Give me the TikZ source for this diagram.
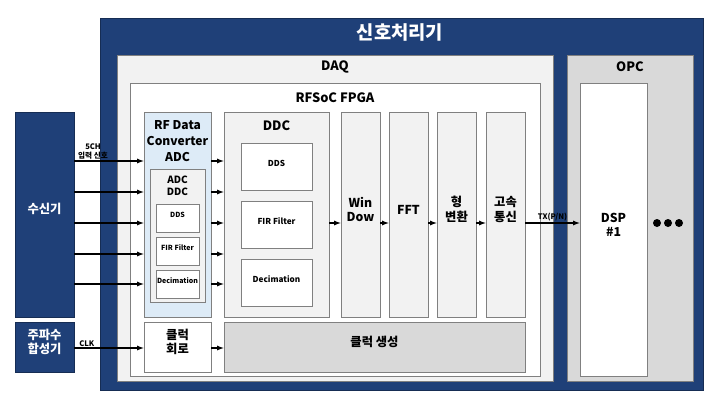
\documentclass[tikz,border=0pt]{standalone}
\usepackage{fontspec}
\setmainfont{Noto Sans CJK KR}
\usepackage{tikz}
\usetikzlibrary{arrows,fit}
\definecolor{navy}{RGB}{31,64,120}
\definecolor{adcblue}{RGB}{221,235,247}
\definecolor{boxline}{RGB}{128,128,128}

\begin{document}
\begin{tikzpicture}[x=0.03cm,y=-0.03cm,>=latex,
  box/.style={draw=boxline,line width=0.6pt,inner sep=0pt,align=center},
  bluebox/.style={box,fill=navy,draw=navy!70!black,text=white},
  lightbox/.style={box,fill=black!5},
  darkbox/.style={box,fill=black!15},
  whitebox/.style={box,fill=white},
  big/.style={font=\fontsize{10.5}{12.5}\selectfont\bfseries},
  mid/.style={font=\fontsize{8.5}{10}\selectfont\bfseries},
  tiny/.style={font=\fontsize{6}{7}\selectfont\bfseries},
  small/.style={font=\fontsize{7}{8}\selectfont\bfseries},
  chanlabel/.style={font=\fontsize{6.5}{7.5}\selectfont\bfseries,inner sep=1pt},
  sig/.style={->,line width=0.9pt}]
\useasboundingbox (0,0) rectangle (720,406);

% outside boxes
\node[bluebox,big,fit={(15,112) (74,317)}] (rx) {수신기};
\node[bluebox,big,fit={(15,322) (74,372)}] (synth) {주파수\\합성기};

% signal processor
\node[bluebox,fit={(100,18) (703,390)}] (sp) {};
\node[text=white,font=\fontsize{16}{18}\selectfont\bfseries] (sptitle) at (400,32) {신호처리기};
\node[lightbox,fit={(117,55) (553,381)}] (daq) {};
\node[font=\fontsize{11}{13}\selectfont\bfseries] (daqtitle) at (335,67) {DAQ};
\node[darkbox,fit={(567,55) (693,381)}] (opc) {};
\node[font=\fontsize{11}{13}\selectfont\bfseries] (opctitle) at (630,67) {OPC};
\node[whitebox,big,fit={(580,83) (647,376)}] (dsp) {DSP\\\#1};
\foreach \x in {657,668,679} % dots
\fill (\x,223) circle (4);

% FPGA
\node[whitebox,fit={(130,83) (540,376)}] (fpga) {};
\node[font=\fontsize{11}{13}\selectfont\bfseries] (fpgatitle) at (335,98) {RFSoC FPGA};

\node[box,fill=adcblue,fit={(144,112) (211,317)}] (rfadc) {};
\node[font=\fontsize{10.3}{13.5}\selectfont\bfseries,align=center] (rftitle) at (177.5,141) {RF Data\\Converter\\ADC};
\node[lightbox,fit={(150,169) (205,302)}] (adcddc) {};
\node[mid,align=center] (adctitle) at (177.5,186) {ADC\\DDC};
\node[whitebox,tiny,fit={(156,204) (199,232)}] (adds) {DDS};
\node[whitebox,tiny,fit={(156,237) (199,265)}] (afir) {FIR Filter};
\node[whitebox,tiny,fit={(156,270) (199,298)}] (adec) {Decimation};

\node[lightbox,fit={(224,112) (329,317)}] (ddc) {};
\node[font=\fontsize{11}{13}\selectfont\bfseries] (ddctitle) at (276.5,126) {DDC};
\node[whitebox,small,fit={(241,143) (312,190)}] (dds) {DDS};
\node[whitebox,small,fit={(241,201) (312,248)}] (fir) {FIR Filter};
\node[whitebox,small,fit={(241,259) (312,306)}] (dec) {Decimation};

\node[lightbox,big,fit={(341,112) (380,317)}] (win) {Win\\Dow};
\node[lightbox,big,fit={(389,112) (428,317)}] (fft) {FFT};
\node[lightbox,big,fit={(437,112) (476,317)}] (conv) {형\\변환};
\node[lightbox,big,fit={(486,112) (525,317)}] (hs) {고속\\통신};

\node[whitebox,big,fit={(144,322) (211,372)}] (clkc) {클럭\\회로};
\node[darkbox,big,fit={(224,322) (525,372)}] (clkg) {클럭 생성};

% input channels
\draw[sig] (rx.east |- 0,161) -- node[chanlabel,above,pos=0.27,align=center] (inlbl) {5CH\\입력 신호} (rfadc.west |- 0,161);
\foreach \y in {192,223,254,284} % edit here for the channels
\draw[sig] (rx.east |- 0,\y) -- (rfadc.west |- 0,\y);
\foreach \y in {161,192,223,254,284}
\draw[sig] (rfadc.east |- 0,\y) -- (ddc.west |- 0,\y);

% processing chain
\draw[sig] (ddc.east |- 0,223) -- (win.west |- 0,223);
\draw[sig] (win.east |- 0,223) -- (fft.west |- 0,223);
\draw[sig] (fft.east |- 0,223) -- (conv.west |- 0,223);
\draw[sig] (conv.east |- 0,223) -- (hs.west |- 0,223);
\draw[sig] (hs.east |- 0,223) -- node[chanlabel,above] (txlbl) {TX(P/N)} (dsp.west |- 0,223);

% clock
\draw[sig] (synth.east |- 0,348) -- node[chanlabel,above,pos=0.18] (clklbl) {CLK} (clkc.west |- 0,348);
\draw[sig] (clkc.east |- 0,348) -- (clkg.west |- 0,348);
\end{tikzpicture}
\end{document}
